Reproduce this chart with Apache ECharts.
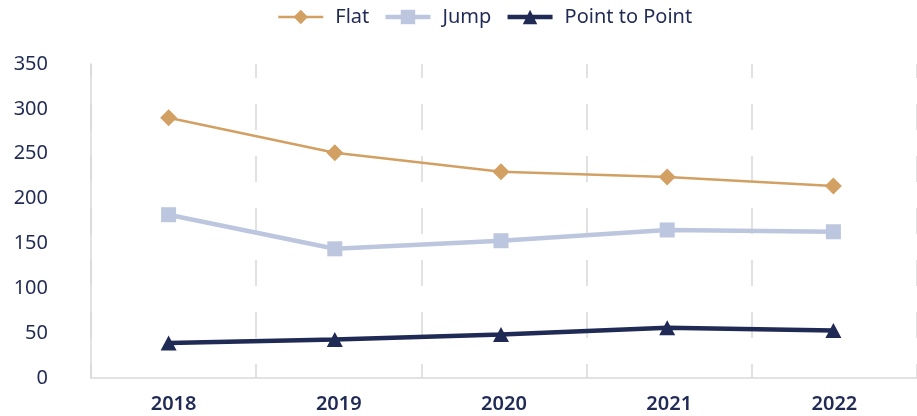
<!DOCTYPE html>
<html>
<head>
<meta charset="utf-8">
<script src="https://cdn.jsdelivr.net/npm/echarts@6/dist/echarts.min.js"></script>
<style>
  html, body { margin: 0; padding: 0; background: #fff; }
  #chart { width: 917px; height: 416px; }
</style>
</head>
<body>
<div id="chart"></div>
<script>
const years = ['2018', '2019', '2020', '2021', '2022'];
const flat = [290, 251, 230, 224, 214];
const jump = [182, 144, 153, 165, 163];
const pointToPoint = [39, 43, 48.5, 56, 53];

const navy = '#1F2A55';
const tan = '#D2A062';
const lightBlue = '#BCC6DE';
const gridColor = '#D9D9D9';
const font = '"Noto Sans", "Open Sans", sans-serif';

const chart = echarts.init(document.getElementById('chart'));

chart.setOption({
    animation: false,
    textStyle: { fontFamily: font },
    legend: {
        left: 277,
        top: 7,
        padding: 0,
        itemWidth: 45,
        itemHeight: 18,
        itemGap: 14,
        textStyle: { color: navy, fontSize: 20, fontFamily: font, padding: [0, 0, 0, 7] },
        data: [
            { name: 'Flat', lineStyle: { width: 2.5 } },
            { name: 'Jump', lineStyle: { width: 4.5 } },
            { name: 'Point to Point', lineStyle: { width: 4.5 } }
        ]
    },
    grid: [
        // axes, labels and dashed lines
        { left: 91, right: -6, top: 64, bottom: 38 },
        // the series sit a little left of the label centres
        { left: 85.5, right: 0.5, top: 64, bottom: 38 }
    ],
    xAxis: [
        {
            gridIndex: 0,
            type: 'category',
            data: years,
            axisLine: { lineStyle: { color: gridColor, width: 1.5 } },
            axisTick: { show: false },
            axisLabel: { color: navy, fontSize: 20, fontWeight: 600, margin: 16, fontFamily: font },
            splitLine: {
                show: true,
                lineStyle: { color: gridColor, width: 1.5, type: [26, 26], dashOffset: 12 }
            }
        },
        { gridIndex: 1, type: 'category', data: years, show: false }
    ],
    yAxis: [
        {
            gridIndex: 0,
            type: 'value',
            min: 0,
            max: 350,
            interval: 50,
            axisLine: { show: true, lineStyle: { color: gridColor, width: 1.5 } },
            axisTick: { show: false },
            splitLine: { show: false },
            axisLabel: { color: navy, fontSize: 20, margin: 43, fontFamily: font }
        },
        { gridIndex: 1, type: 'value', min: 0, max: 350, show: false }
    ],
    series: [
        {
            name: 'Flat',
            type: 'line',
            xAxisIndex: 1,
            yAxisIndex: 1,
            data: flat,
            symbol: 'diamond',
            symbolSize: 17,
            lineStyle: { color: tan, width: 2.5 },
            itemStyle: { color: tan }
        },
        {
            name: 'Jump',
            type: 'line',
            xAxisIndex: 1,
            yAxisIndex: 1,
            data: jump,
            symbol: 'rect',
            symbolSize: 15,
            lineStyle: { color: lightBlue, width: 4.5 },
            itemStyle: { color: lightBlue }
        },
        {
            name: 'Point to Point',
            type: 'line',
            xAxisIndex: 1,
            yAxisIndex: 1,
            data: pointToPoint,
            symbol: 'triangle',
            symbolSize: [16, 15],
            lineStyle: { color: navy, width: 4.5 },
            itemStyle: { color: navy }
        }
    ]
});
</script>
</body>
</html>
